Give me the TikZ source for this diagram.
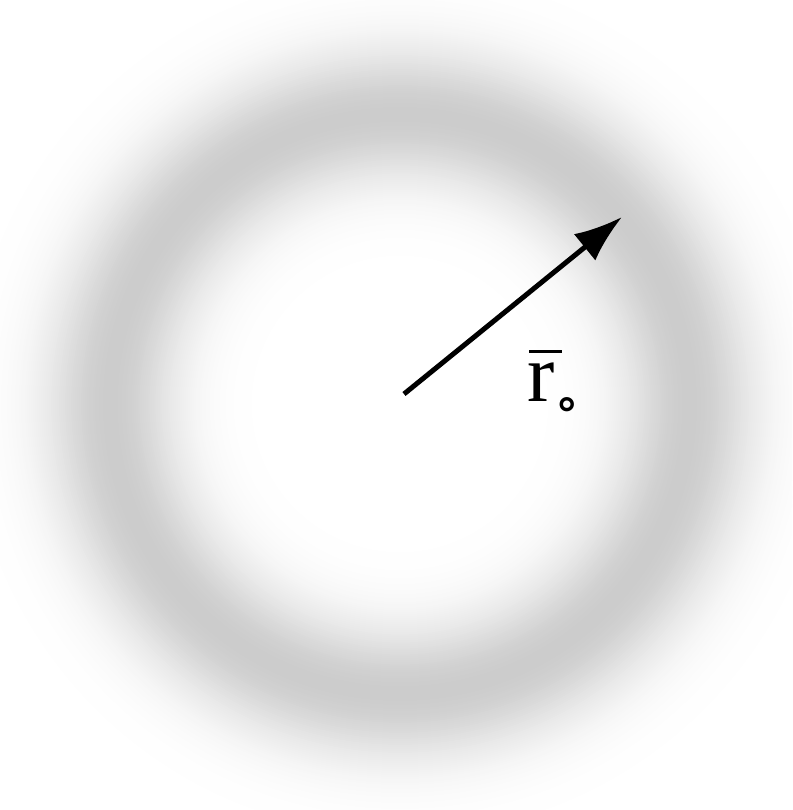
\documentclass[tikz,border=0pt]{standalone}
\usepackage{fontspec}
\setmainfont{Liberation Serif}
\newfontfamily\dejavu{DejaVu Sans}
\usetikzlibrary{arrows.meta}
\tikzset{
  vecarrow/.style={line width=5pt, -{Latex[length=48pt,width=34pt]}},
  veclabel/.style={inner sep=0pt, font=\fontsize{82}{82}\selectfont}
}
\begin{document}
\begin{tikzpicture}[x=1pt,y=1pt]
\useasboundingbox (0,0) rectangle (792,810);
\fill[white] (0,0) rectangle (792,810);
\clip (0,0) rectangle (792,810);
% fuzzy grey ring: concentric thin rings with a Gaussian profile
\foreach \r in {130,132,...,450}{
  \pgfmathsetmacro{\g}{20*exp(-((\r-290)/66)^2)}
  \draw[line width=2.6pt, draw=black!\g] (400,406) circle (\r);
}
\coordinate (o) at (404,416);
\coordinate (tip) at (622,593);
\draw[vecarrow] (o) -- (tip);
\node[veclabel, anchor=base west] (lbl) at (527,408)
  {\makebox[0pt][l]{\hspace{2pt}\raisebox{49pt}{\rule{33pt}{3.2pt}}}r\hspace{-1pt}\raisebox{-17pt}{\dejavu\bfseries\fontsize{44}{44}\selectfont ∘}};
\end{tikzpicture}
\end{document}
